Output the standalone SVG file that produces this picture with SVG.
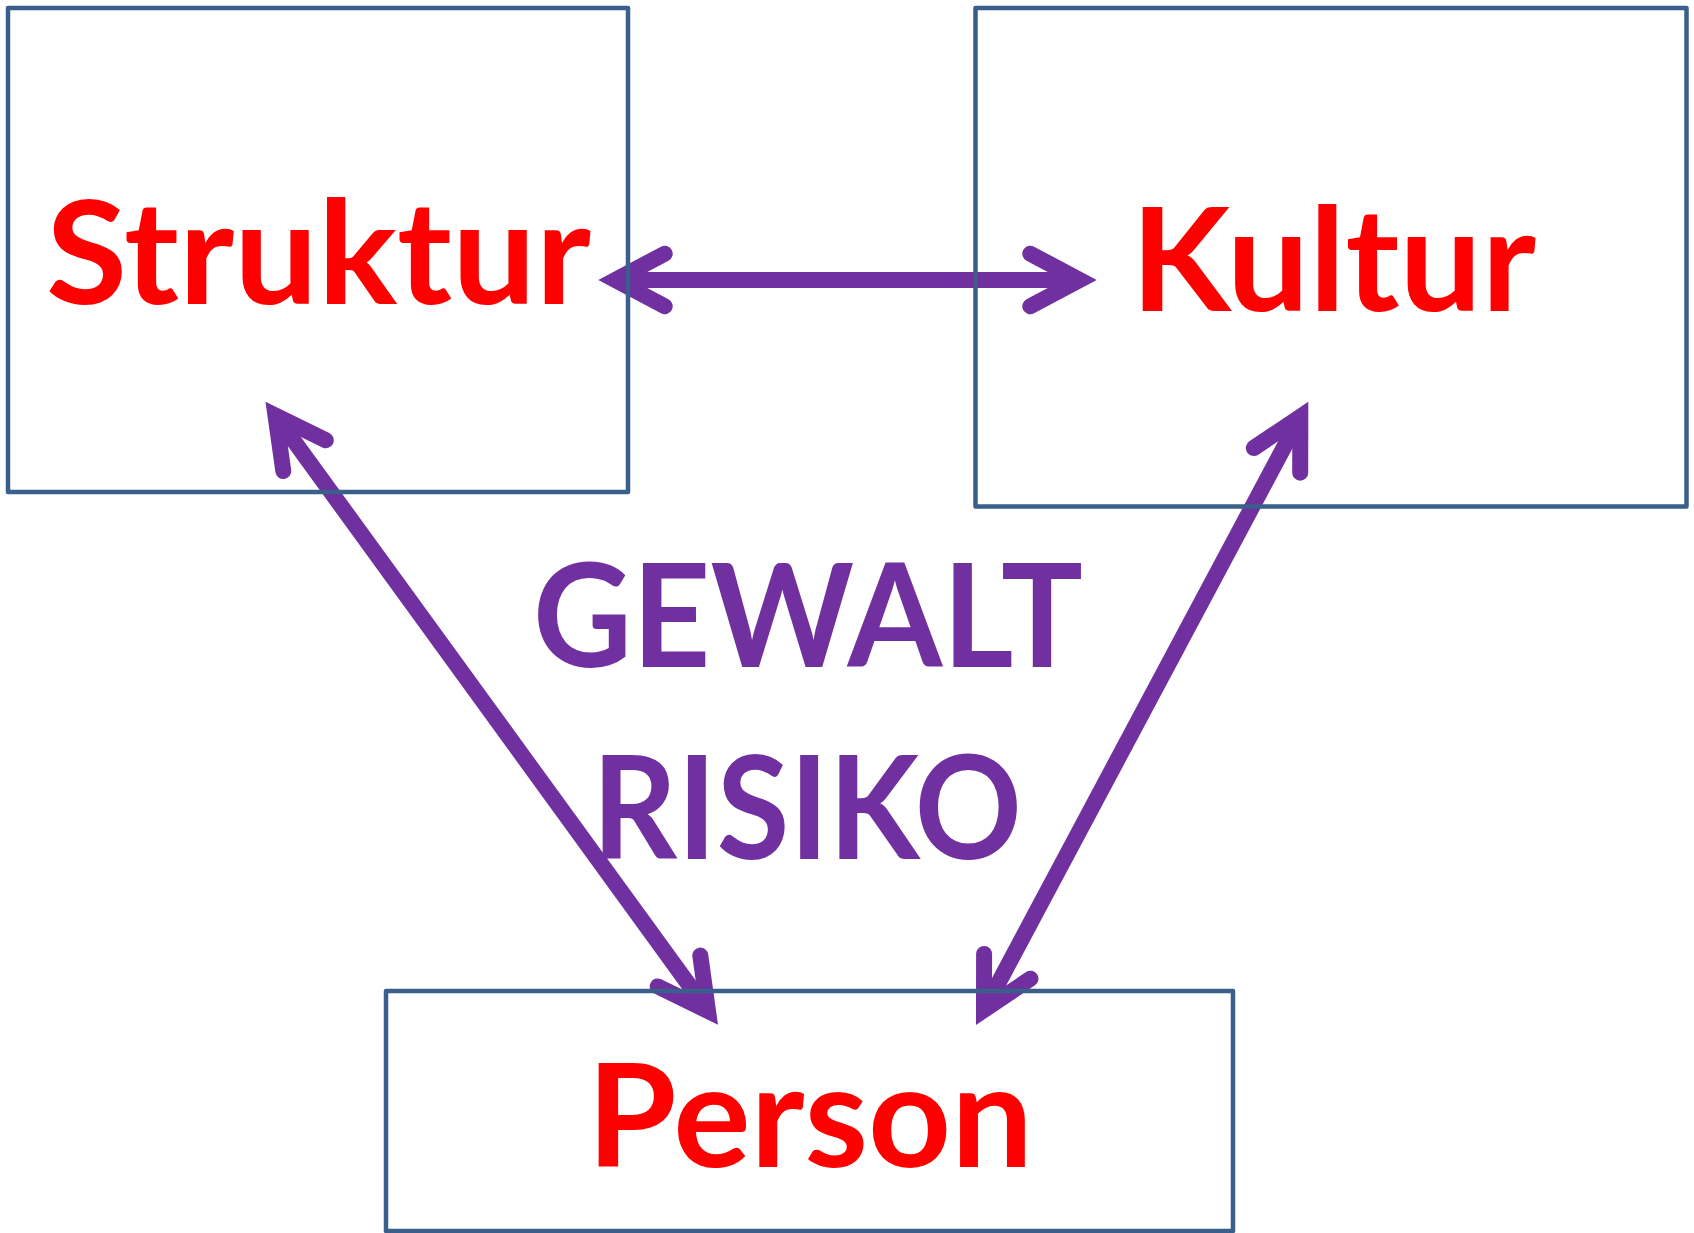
<svg xmlns="http://www.w3.org/2000/svg" width="1694" height="1233" viewBox="0 0 1694 1233">
<style>
.box{fill:none;stroke:#3A5F8B;stroke-width:4.5;stroke-linejoin:round}
.lbl{font-family:Lato,"Open Sans","Liberation Sans",sans-serif;font-weight:700;font-size:144px}
.red{fill:#FF0000}
.pur{fill:#7030A0}
.shaft{stroke:#7030A0;stroke-width:16;fill:none;stroke-linecap:butt}
.head{stroke:#7030A0;stroke-width:16;fill:none;stroke-linecap:round;stroke-linejoin:miter;stroke-miterlimit:10}
</style>
<rect width="1694" height="1233" fill="#FFFFFF"/>
<g id="connectors">
  <line class="shaft" x1="615.3" y1="280" x2="1079.7" y2="280"/>
  <polyline class="head" points="664.7,253.7 615.3,280 664.7,306.3"/>
  <polyline class="head" points="1030.3,253.7 1079.7,280 1030.3,306.3"/>
  <line class="shaft" x1="275.5" y1="415.6" x2="708.0" y2="1011.0"/>
  <polyline class="head" points="283.3,471.0 275.5,415.6 325.8,440.2"/>
  <polyline class="head" points="700.3,955.6 708.0,1011.0 657.7,986.4"/>
  <line class="shaft" x1="1300.3" y1="416.7" x2="984.0" y2="1010.0"/>
  <polyline class="head" points="1253.8,448.0 1300.3,416.7 1300.2,472.7"/>
  <polyline class="head" points="1030.5,978.7 984.0,1010.0 984.1,954.0"/>
</g>
<g id="struktur">
  <rect class="box" x="8" y="8" width="620" height="484"/>
  <text class="lbl red" x="46" y="303.6" textLength="545" lengthAdjust="spacingAndGlyphs">Struktur</text>
</g>
<g id="kultur">
  <rect class="box" x="975.5" y="8" width="711" height="498.5"/>
  <text class="lbl red" x="1131" y="311.2" textLength="405" lengthAdjust="spacingAndGlyphs">Kultur</text>
</g>
<g id="person">
  <rect class="box" x="386" y="991" width="847" height="240"/>
  <text class="lbl red" x="587" y="1166.8" textLength="446" lengthAdjust="spacingAndGlyphs">Person</text>
</g>
<g id="gewalt-risiko">
  <text class="lbl pur" x="533" y="666.6" textLength="550" lengthAdjust="spacingAndGlyphs">GEWALT</text>
  <text class="lbl pur" x="592" y="858.9" textLength="430" lengthAdjust="spacingAndGlyphs">RISIKO</text>
</g>
</svg>
